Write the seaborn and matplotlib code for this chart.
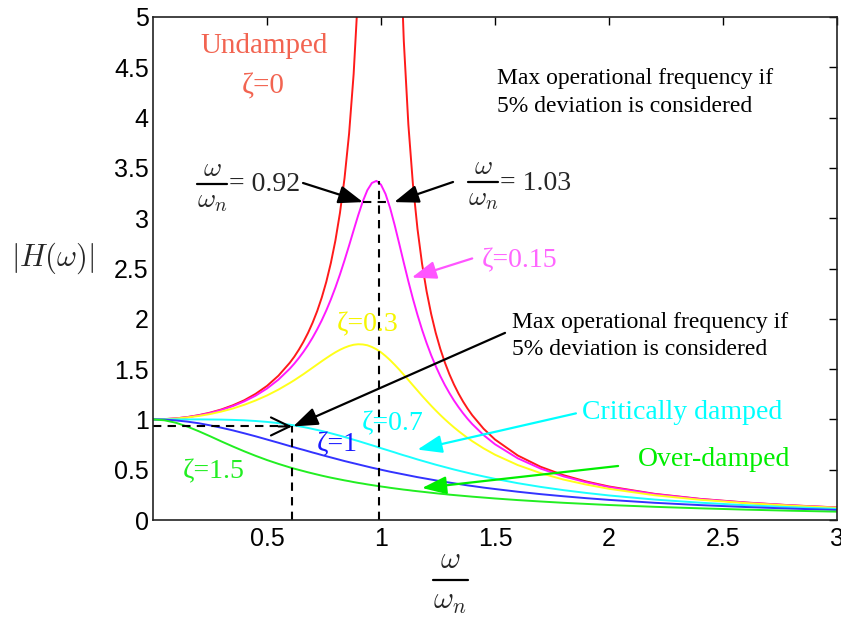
import numpy as np
import pandas as pd
import matplotlib
matplotlib.use("Agg")
import matplotlib.pyplot as plt
from matplotlib.lines import Line2D
import seaborn as sns

nan = float("nan")

# frequency ratio omega/omega_n
omega_ratio = [0.0, 0.05, 0.1, 0.15, 0.2, 0.25, 0.3, 0.35, 0.4, 0.45, 0.5, 0.55,
               0.6, 0.62, 0.64, 0.66, 0.68, 0.7, 0.72, 0.74, 0.76, 0.78, 0.8, 0.82, 0.84, 0.86,
               0.88, 0.9, 0.92, 0.94, 0.96, 0.98, 1.0, 1.02, 1.04, 1.06, 1.08, 1.1, 1.12, 1.14,
               1.16, 1.18, 1.2, 1.22, 1.24, 1.26, 1.28, 1.3, 1.32, 1.34, 1.36, 1.38, 1.4,
               1.45, 1.5, 1.6, 1.7, 1.8, 1.9, 2.0, 2.2, 2.4, 2.6, 2.8, 3.0]

# |H(w)|
h_zeta_0 = [1.0, 1.003, 1.010, 1.023, 1.042, 1.067, 1.099, 1.140, 1.190, 1.254, 1.333, 1.434,
            1.563, 1.624, 1.694, 1.772, 1.860, 1.961, 2.076, 2.210, 2.367, 2.554, 2.778, 3.053,
            3.397, 3.840, 4.433, 5.263, nan, nan, nan, nan, nan, nan, nan, nan, 6.010, 4.762,
            3.931, 3.338, 2.894, 2.548, 2.273, 2.048, 1.860, 1.702, 1.566, 1.449, 1.347, 1.257,
            1.177, 1.106, 1.042, 0.907, 0.800, 0.641, 0.529, 0.446, 0.383, 0.333, 0.260, 0.210,
            0.174, 0.146, 0.125]
h_zeta_015 = [1.0, 1.002, 1.010, 1.022, 1.040, 1.063, 1.094, 1.132, 1.179, 1.236, 1.307, 1.395,
              1.504, 1.555, 1.611, 1.672, 1.739, 1.813, 1.895, 1.984, 2.083, 2.192, 2.311, 2.441,
              2.581, 2.728, 2.880, 3.029, 3.166, 3.278, 3.350, 3.371, 3.333, 3.240, 3.101, 2.931,
              2.746, 2.557, 2.373, 2.199, 2.039, 1.892, 1.759, 1.638, 1.530, 1.431, 1.342, 1.262,
              1.188, 1.122, 1.061, 1.005, 0.954, 0.844, 0.753, 0.613, 0.511, 0.434, 0.375, 0.327,
              0.257, 0.208, 0.172, 0.145, 0.124]
h_zeta_03 = [1.0, 1.002, 1.008, 1.019, 1.034, 1.053, 1.078, 1.108, 1.145, 1.188, 1.238, 1.296,
             1.362, 1.390, 1.420, 1.450, 1.482, 1.514, 1.546, 1.578, 1.609, 1.639, 1.667, 1.692,
             1.713, 1.730, 1.742, 1.747, 1.745, 1.737, 1.720, 1.697, 1.667, 1.630, 1.589, 1.543,
             1.495, 1.444, 1.392, 1.339, 1.287, 1.235, 1.185, 1.136, 1.089, 1.044, 1.001, 0.960,
             0.921, 0.884, 0.849, 0.816, 0.784, 0.712, 0.649, 0.546, 0.466, 0.402, 0.352, 0.310,
             0.246, 0.201, 0.168, 0.142, 0.122]
h_zeta_07 = [1.0, 1.000, 1.000, 1.000, 1.000, 0.999, 0.998, 0.995, 0.991, 0.984, 0.975, 0.963,
             0.947, 0.940, 0.932, 0.924, 0.915, 0.905, 0.895, 0.885, 0.874, 0.862, 0.850, 0.838,
             0.825, 0.812, 0.798, 0.785, 0.771, 0.757, 0.743, 0.729, 0.714, 0.700, 0.686, 0.672,
             0.657, 0.643, 0.630, 0.616, 0.602, 0.589, 0.576, 0.563, 0.550, 0.538, 0.526, 0.514,
             0.502, 0.491, 0.480, 0.469, 0.458, 0.433, 0.409, 0.366, 0.329, 0.297, 0.269, 0.244,
             0.203, 0.172, 0.147, 0.127, 0.111]
h_zeta_1 = [1.0, 0.998, 0.990, 0.978, 0.962, 0.941, 0.917, 0.891, 0.862, 0.832, 0.800, 0.768,
            0.735, 0.722, 0.709, 0.697, 0.684, 0.671, 0.659, 0.646, 0.634, 0.622, 0.610, 0.598,
            0.586, 0.575, 0.564, 0.553, 0.542, 0.531, 0.520, 0.510, 0.500, 0.490, 0.480, 0.471,
            0.462, 0.453, 0.444, 0.435, 0.426, 0.418, 0.410, 0.402, 0.394, 0.386, 0.379, 0.372,
            0.365, 0.358, 0.351, 0.344, 0.338, 0.322, 0.308, 0.281, 0.257, 0.236, 0.217, 0.200,
            0.171, 0.148, 0.129, 0.113, 0.100]
h_zeta_15 = [1.0, 0.991, 0.967, 0.929, 0.883, 0.833, 0.781, 0.731, 0.683, 0.638, 0.596, 0.558,
             0.523, 0.510, 0.498, 0.486, 0.474, 0.463, 0.452, 0.441, 0.431, 0.421, 0.412, 0.403,
             0.394, 0.386, 0.377, 0.369, 0.362, 0.354, 0.347, 0.340, 0.333, 0.327, 0.320, 0.314,
             0.308, 0.302, 0.297, 0.291, 0.286, 0.281, 0.276, 0.271, 0.266, 0.261, 0.257, 0.252,
             0.248, 0.244, 0.240, 0.236, 0.232, 0.223, 0.214, 0.198, 0.184, 0.171, 0.160, 0.149,
             0.131, 0.116, 0.103, 0.092, 0.083]

series_names = ["z0", "z015", "z03", "z07", "z1", "z15"]
series_values = [h_zeta_0, h_zeta_015, h_zeta_03, h_zeta_07, h_zeta_1, h_zeta_15]
series_colors = ["#ff1a1a", "#ff1aff", "#ffff1a", "#1affff", "#3333ff", "#22ee22"]

x_ticks = [0.5, 1, 1.5, 2, 2.5, 3]
x_tick_labels = ["0.5", "1", "1.5", "2", "2.5", "3"]
y_ticks = [0, 0.5, 1, 1.5, 2, 2.5, 3, 3.5, 4, 4.5, 5]
y_tick_labels = ["0", "0.5", "1", "1.5", "2", "2.5", "3", "3.5", "4", "4.5", "5"]

frames = []
for name, vals in zip(series_names, series_values):
    frames.append(pd.DataFrame({"r": omega_ratio, "H": vals, "zeta": name}))
df = pd.concat(frames, ignore_index=True)

sns.set_style("white")
plt.rcParams["mathtext.fontset"] = "cm"
SERIF = ["Liberation Serif", "DejaVu Serif"]
SANS = ["Liberation Sans", "DejaVu Sans"]

W, H = 841, 618
fig = plt.figure(figsize=(W / 100, H / 100), dpi=100)
ax = fig.add_axes([153 / W, 98 / H, 684 / W, 503 / H])

sns.lineplot(data=df, x="r", y="H", hue="zeta", hue_order=series_names,
             palette=dict(zip(series_names, series_colors)), estimator=None, sort=False,
             legend=False, linewidth=1.4, ax=ax)

ax.set_xlim(0, 3)
ax.set_ylim(0, 5)
ax.set_xticks(x_ticks)
ax.set_xticklabels(x_tick_labels, fontfamily=SANS, fontsize=18)
ax.set_yticks(y_ticks)
ax.set_yticklabels(y_tick_labels, fontfamily=SANS, fontsize=18)
ax.tick_params(axis="y", direction="in", length=6, width=1, right=True, pad=3, colors="black")
ax.tick_params(axis="x", direction="in", length=6, width=1, top=True, pad=5, colors="black")
for sp in ax.spines.values():
    sp.set_visible(True)
    sp.set_color("#222222")
    sp.set_linewidth(1.2)
ax.set_xlabel("")
ax.set_ylabel(r"$|H(\omega)|$", fontsize=22, rotation=0, ha="center", va="center")
ax.yaxis.set_label_coords(-0.146, 0.52)


def fig_fraction(cx, num_y, bar_y, den_y, half_w, size):
    fig.text(cx / W, 1 - num_y / H, r"$\omega$", fontsize=size, ha="center", va="center")
    fig.text(cx / W, 1 - den_y / H, r"$\omega_n$", fontsize=size, ha="center", va="center")
    fig.add_artist(Line2D([(cx - half_w) / W, (cx + half_w) / W], [1 - bar_y / H] * 2,
                          color="black", lw=1.6))


# x-axis label (fraction omega / omega_n)
fig_fraction(450, 559, 580, 602, 17.5, 22)
# in-plot fraction annotations
fig_fraction(212, 168, 184, 200, 15, 20)
fig.text(229 / W, 1 - 185 / H, "= 0.92", fontsize=20, fontfamily=SERIF, ha="left", va="center")
fig_fraction(483, 166, 182, 198, 15, 20)
fig.text(500 / W, 1 - 183 / H, "= 1.03", fontsize=20, fontfamily=SERIF, ha="left", va="center")

dash = (0, (4, 3))
ax.plot([0.99, 0.99], [0, 3.37], color="black", lw=1.5, linestyle=dash)
ax.plot([0.92, 1.05], [3.16, 3.16], color="black", lw=1.5, linestyle=dash)
ax.plot([0.61, 0.61], [0, 0.93], color="black", lw=1.5, linestyle=dash)
ax.plot([0, 0.6], [0.93, 0.93], color="black", lw=1.5, linestyle=dash)
ax.annotate("", xy=(0.61, 0.93), xytext=(0.55, 0.93),
            arrowprops=dict(arrowstyle="->,head_length=1.35,head_width=0.65", color="black", lw=1.5,
                            shrinkA=0, shrinkB=0))


def arrow(tail, tip, color):
    ax.annotate("", xy=tip, xytext=tail,
                arrowprops=dict(arrowstyle="-|>,head_length=1.5,head_width=0.55", color=color,
                                lw=1.6, shrinkA=0, shrinkB=0))


arrow((0.658, 3.35), (0.921, 3.16), "black")
arrow((1.316, 3.36), (1.058, 3.16), "black")
arrow((1.544, 1.86), (0.615, 0.93), "black")
arrow((1.40, 2.60), (1.135, 2.41), "#ff55ff")
arrow((1.855, 1.06), (1.16, 0.70), "#00ffff")
arrow((2.04, 0.537), (1.18, 0.318), "#00ee00")

ax.text(0.487, 4.64, "Undamped", color="#f26451", fontsize=21, fontfamily=SERIF, ha="center", va="baseline")
ax.text(0.482, 4.24, "ζ=0", color="#f26451", fontsize=21, fontfamily=SERIF, ha="center", va="baseline")
ax.text(1.509, 4.25, "Max operational frequency if\n5% deviation is considered", color="black",
        fontsize=17, fontfamily=SERIF, ha="left", va="center", linespacing=1.4)
ax.text(1.575, 1.83, "Max operational frequency if\n5% deviation is considered", color="black",
        fontsize=17, fontfamily=SERIF, ha="left", va="center", linespacing=1.4)
ax.text(1.443, 2.58, "ζ=0.15", color="#ff66ff", fontsize=20, fontfamily=SERIF, ha="left", va="center")
ax.text(0.943, 1.94, "ζ=0.3", color="#f5f500", fontsize=20, fontfamily=SERIF, ha="center", va="center")
ax.text(1.053, 0.96, "ζ=0.7", color="#00ffff", fontsize=20, fontfamily=SERIF, ha="center", va="center")
ax.text(0.807, 0.745, "ζ=1", color="#1a1aff", fontsize=20, fontfamily=SERIF, ha="center", va="center")
ax.text(0.268, 0.48, "ζ=1.5", color="#22ee22", fontsize=20, fontfamily=SERIF, ha="center", va="center")
ax.text(1.88, 1.064, "Critically damped", color="#00ffff", fontsize=20, fontfamily=SERIF, ha="left", va="center")
ax.text(2.127, 0.60, "Over-damped", color="#00ee00", fontsize=20, fontfamily=SERIF, ha="left", va="center")

fig.savefig("out.png", dpi=100, facecolor="white")
